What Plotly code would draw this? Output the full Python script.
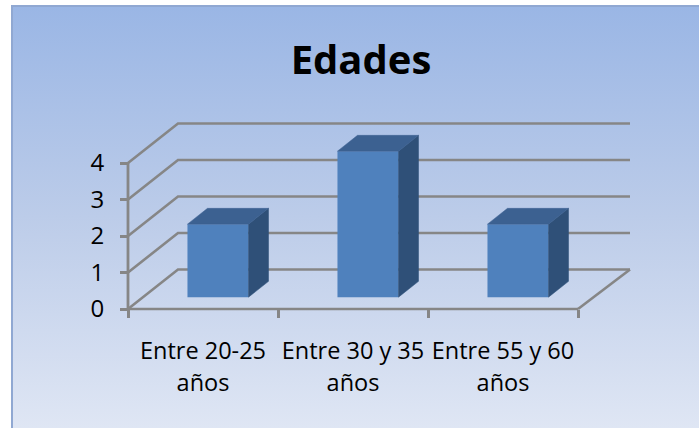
import plotly.graph_objects as go

# ---- data ----
title = "Edades"
categories = ["Entre 20-25 años", "Entre 30 y 35 años", "Entre 55 y 60 años"]
label_first = ["Entre 20-25", "Entre 30 y 35", "Entre 55 y 60"]
label_second = ["años", "años", "años"]
values = [2, 4, 2]
y_ticks = [0, 1, 2, 3, 4]

# ---- 3-D look: oblique projection, in axis units ----
DX, DY = 50 / 150, 39.5 / 36.5   # full floor depth
WALL_EXTRA = 2 / 150             # back wall runs slightly further right
D0, D1 = 0.3, 0.7                # depth span of the bars
BAR_W = 0.407
W, H = 699, 428
X0, X1 = 128, 640                # position of value 0 / right end of plot area, px
Y0, Y1 = 309, 110
PAD = 10                         # px of room around the zero lines so they are not clipped
PX_X, PX_Y = 150, 36.5           # px per category, px per unit value
FONT = "Open Sans"
GRID = "#868686"
FRONT, TOP, SIDE = "#4f81bd", "#3c6191", "#2f5078"


def proj(x, v, d):
    return x + d * DX, v + d * DY


fig = go.Figure()

# background panel (primary axes are drawn first)
fig.add_trace(go.Scatter(
    x=[0, 1, 1, 0, 0], y=[0, 0, 1, 1, 0], mode="none", fill="toself",
    fillgradient=dict(type="vertical",
                      colorscale=[[0, "#dfe6f4"], [0.5, "#bccce9"], [1, "#9ab6e5"]]),
    hoverinfo="skip", showlegend=False, xaxis="x", yaxis="y"))
fig.add_trace(go.Scatter(
    x=[0, 0, 1], y=[0, 1, 1], mode="lines", line=dict(color="#90a8d2", width=2),
    cliponaxis=False, hoverinfo="skip", showlegend=False, xaxis="x", yaxis="y"))


def line(xs, ys, width=2.6):
    fig.add_trace(go.Scatter(x=xs, y=ys, mode="lines", cliponaxis=False,
                             line=dict(color=GRID, width=width),
                             hoverinfo="skip", showlegend=False,
                             xaxis="x2", yaxis="y2"))


n = len(categories)
for v in y_ticks:
    bx, by = proj(0, v, 1)
    ex, ey = proj(n, v, 1)
    line([0, bx, ex + WALL_EXTRA], [v, by, ey])
rx, ry = proj(n, 0, 1)
line([n, rx + WALL_EXTRA], [0, ry])
line([0, n], [0, 0])
line([0, 0], [0, max(y_ticks)], width=2.8)

# bars: true bar trace for the front faces, polygons for the depth faces
centers = [i + 0.5 + D0 * DX for i in range(n)]
fig.add_trace(go.Bar(
    x=centers, y=values, base=D0 * DY, width=BAR_W, marker=dict(color=FRONT, line_width=0),
    customdata=categories, hovertemplate="%{customdata}: %{y}<extra></extra>",
    showlegend=False, xaxis="x3", yaxis="y3"))


def face(pts, color):
    fig.add_trace(go.Scatter(
        x=[p[0] for p in pts] + [pts[0][0]], y=[p[1] for p in pts] + [pts[0][1]],
        mode="lines", fill="toself", fillcolor=color, line=dict(color=color, width=0.5),
        hoverinfo="skip", showlegend=False, xaxis="x3", yaxis="y3"))


for i, v in enumerate(values):
    l = i + 0.5 - BAR_W / 2 + D0 * DX
    r = i + 0.5 + BAR_W / 2 + D0 * DX
    base = D0 * DY
    sx, sy = (D1 - D0) * DX, (D1 - D0) * DY
    face([(r, base), (r + sx, base + sy), (r + sx, base + v + sy), (r, base + v)], SIDE)
    face([(l, base + v), (r, base + v), (r + sx, base + v + sy), (l + sx, base + v + sy)], TOP)

# invisible anchor so the second label axis is drawn
fig.add_trace(go.Scatter(x=[0.5], y=[0], mode="none", hoverinfo="skip",
                         showlegend=False, xaxis="x4", yaxis="y3"))

dom_x = [(X0 - PAD) / W, X1 / W]
dom_y = [1 - (Y0 + PAD) / H, 1 - Y1 / H]
range_x = [-PAD / PX_X, (X1 - X0) / PX_X]
range_y = [-PAD / PX_Y, (Y0 - Y1) / PX_Y]
mids = [i + 0.5 for i in range(n)]
tickfont = dict(family=FONT, size=23.5, color="#000000")
plain = dict(showgrid=False, zeroline=False, showline=False, showticklabels=False, ticks="")
common_x = dict(range=range_x, domain=dom_x, showgrid=False, zeroline=False, showline=False)

fig.update_layout(
    width=W, height=H, margin=dict(l=0, r=0, t=0, b=0, autoexpand=False),
    paper_bgcolor="#ffffff", plot_bgcolor="rgba(0,0,0,0)", showlegend=False,
    title=dict(text=f"<b>{title}</b>", x=361 / W, y=1 - 60 / H, xref="paper", yref="paper",
               xanchor="center", yanchor="middle",
               font=dict(family=FONT, size=40, color="#000000")),
    xaxis=dict(range=[-8 / 687, 1], domain=[4 / W, 1], **plain),
    yaxis=dict(range=[0, 1 + 6 / 422], domain=[0, 1], **plain),
    xaxis2=dict(anchor="free", position=1 - Y0 / H, tickmode="array", tickvals=list(range(n + 1)),
                ticktext=[""] * (n + 1), ticks="outside", ticklen=8, tickwidth=2.6,
                tickcolor=GRID, **common_x),
    yaxis2=dict(anchor="free", position=X0 / W, range=range_y, domain=dom_y, tickmode="array",
                tickvals=y_ticks, ticktext=[str(t) for t in y_ticks], ticks="outside", ticklen=8,
                tickwidth=2.6, tickcolor=GRID, tickfont=dict(family=FONT, size=24, color="#000000"),
                ticklabelstandoff=11, showgrid=False, zeroline=False, showline=False),
    xaxis3=dict(anchor="y3", overlaying="x2", tickmode="array", tickvals=mids, ticktext=label_first,
                tickfont=tickfont, ticks="", ticklabelstandoff=15, **common_x),
    yaxis3=dict(anchor="x3", overlaying="y2", range=range_y, domain=dom_y, **plain),
    xaxis4=dict(anchor="y3", overlaying="x2", tickmode="array", tickvals=mids, ticktext=label_second,
                tickfont=tickfont, ticks="", ticklabelstandoff=47, **common_x),
)

fig.write_html("out.html", config=dict(displayModeBar=False),
               post_script="document.body.style.margin='0';")
